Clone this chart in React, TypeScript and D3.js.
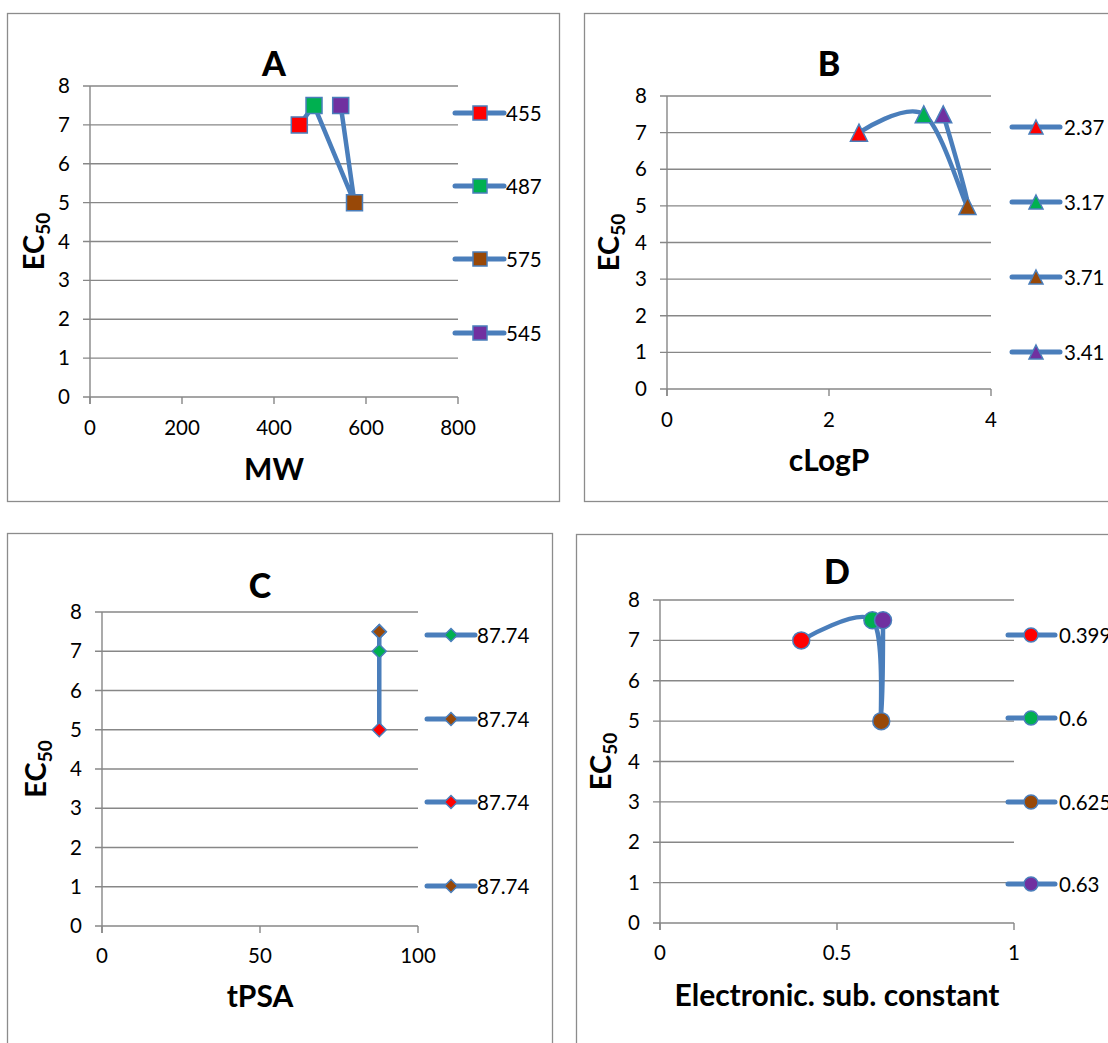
import React from 'react';
import * as d3 from 'd3';

const FONT = "Lato, 'Open Sans', sans-serif";
const BLUE = '#4A7EBB';
const GRID = '#878787';
const RED = '#FF0000';
const GREEN = '#00B050';
const BROWN = '#984807';
const PURPLE = '#7030A0';

// ---- data ----
const yTicks = [0, 1, 2, 3, 4, 5, 6, 7, 8];

const mwValues = [455, 487, 575, 545];
const mwEC50 = [7, 7.5, 5, 7.5];
const mwColors = [RED, GREEN, BROWN, PURPLE];
const mwLabels = ['455', '487', '575', '545'];
const mwTicks = [0, 200, 400, 600, 800];

const clogpValues = [2.37, 3.17, 3.71, 3.41];
const clogpEC50 = [7, 7.5, 5, 7.5];
const clogpColors = [RED, GREEN, BROWN, PURPLE];
const clogpLabels = ['2.37', '3.17', '3.71', '3.41'];
const clogpTicks = [0, 2, 4];

const tpsaValues = [87.74, 87.74, 87.74, 87.74];
const tpsaEC50 = [7, 7.5, 5, 7.5];
const tpsaColors = [GREEN, BROWN, RED, BROWN];
const tpsaLabels = ['87.74', '87.74', '87.74', '87.74'];
const tpsaTicks = [0, 50, 100];

const escValues = [0.399, 0.6, 0.625, 0.63];
const escEC50 = [7, 7.5, 5, 7.5];
const escColors = [RED, GREEN, BROWN, PURPLE];
const escLabels = ['0.399', '0.6', '0.625', '0.63'];
const escTicks = [0, 0.5, 1];

// ---- marker shapes ----
function markerPath(shape: string, s: number): string {
  const h = s / 2;
  if (shape === 'square') return `M${-h},${-h}H${h}V${h}H${-h}Z`;
  if (shape === 'triangle') return `M0,${-h}L${h},${h}L${-h},${h}Z`;
  if (shape === 'diamond') return `M0,${-h}L${h},0L0,${h}L${-h},0Z`;
  return `M${h},0A${h},${h} 0 1,1 ${-h},0A${h},${h} 0 1,1 ${h},0Z`;
}

type Cfg = {
  title: string;
  xLabel: string;
  xs: number[];
  ys: number[];
  colors: string[];
  labels: string[];
  xTicks: number[];
  xDomain: [number, number];
  smooth: boolean;
  shape: string;
  msize: number;
  lsize: number;
  border: [number, number, number, number];
  px0: number; px1: number; pyT: number; pyB: number;
  titleY: number;
  xTickY: number;
  xLabelY: number;
  yLabelX: number;
  legLine: [number, number];
  legMarker: number;
  legText: number;
  legY: number[];
};

const panels: Cfg[] = [
  {
    title: 'A', xLabel: 'MW', xs: mwValues, ys: mwEC50, colors: mwColors, labels: mwLabels,
    xTicks: mwTicks, xDomain: [0, 800], smooth: false, shape: 'square', msize: 16, lsize: 14,
    border: [7, 13, 559, 501], px0: 90, px1: 458, pyT: 86, pyB: 397,
    titleY: 76, xTickY: 435, xLabelY: 480, yLabelX: 44,
    legLine: [455, 504], legMarker: 480, legText: 506, legY: [113, 186, 259, 333],
  },
  {
    title: 'B', xLabel: 'cLogP', xs: clogpValues, ys: clogpEC50, colors: clogpColors, labels: clogpLabels,
    xTicks: clogpTicks, xDomain: [0, 4], smooth: true, shape: 'triangle', msize: 17, lsize: 14,
    border: [584, 13, 1140, 501], px0: 667, px1: 991, pyT: 96, pyB: 389,
    titleY: 76, xTickY: 427, xLabelY: 471, yLabelX: 619,
    legLine: [1012, 1060], legMarker: 1036, legText: 1064, legY: [127, 202, 277, 352],
  },
  {
    title: 'C', xLabel: 'tPSA', xs: tpsaValues, ys: tpsaEC50, colors: tpsaColors, labels: tpsaLabels,
    xTicks: tpsaTicks, xDomain: [0, 100], smooth: false, shape: 'diamond', msize: 14, lsize: 13,
    border: [7, 533, 552, 1080], px0: 102, px1: 418, pyT: 612, pyB: 926,
    titleY: 598, xTickY: 963, xLabelY: 1007, yLabelX: 46,
    legLine: [427, 475], legMarker: 451, legText: 477, legY: [635, 719, 802, 886],
  },
  {
    title: 'D', xLabel: 'Electronic. sub. constant', xs: escValues, ys: escEC50, colors: escColors, labels: escLabels,
    xTicks: escTicks, xDomain: [0, 1], smooth: true, shape: 'circle', msize: 17, lsize: 14,
    border: [576, 534, 1140, 1080], px0: 660, px1: 1014, pyT: 600, pyB: 923,
    titleY: 584, xTickY: 960, xLabelY: 1006, yLabelX: 611,
    legLine: [1008, 1055], legMarker: 1031, legText: 1059, legY: [635, 718, 802, 884],
  },
];

function Panel({ c }: { c: Cfg }) {
  const x = d3.scaleLinear().domain(c.xDomain).range([c.px0, c.px1]);
  const y = d3.scaleLinear().domain([0, 8]).range([c.pyB, c.pyT]);
  const pts: [number, number][] = c.xs.map((v, i) => [x(v), y(c.ys[i])]);
  const line = d3.line().curve(c.smooth ? d3.curveCardinal.tension(0) : d3.curveLinear);
  const [bx0, by0, bx1, by1] = c.border;
  const cx = (c.px0 + c.px1) / 2;
  const cy = (c.pyT + c.pyB) / 2;
  return (
    <g>
      <rect x={bx0 + 0.5} y={by0 + 0.5} width={bx1 - bx0} height={by1 - by0} fill="#fff" stroke="#8c8c8c" strokeWidth={1.3} />
      {yTicks.map((t) => (
        <line key={'g' + t} x1={c.px0 - 7} x2={c.px1} y1={y(t)} y2={y(t)} stroke={GRID} strokeWidth={1.4} />
      ))}
      <line x1={c.px0} x2={c.px0} y1={c.pyT} y2={c.pyB + 7} stroke={GRID} strokeWidth={1.4} />
      {c.xTicks.map((t) => (
        <line key={'xt' + t} x1={x(t)} x2={x(t)} y1={c.pyB} y2={c.pyB + 7} stroke={GRID} strokeWidth={1.4} />
      ))}
      {yTicks.map((t) => (
        <text key={'yl' + t} x={c.px0 - 20} y={y(t) + 7} textAnchor="end" fontSize={20.5} fontFamily={FONT} fill="#000">{t}</text>
      ))}
      {c.xTicks.map((t) => (
        <text key={'xl' + t} x={x(t)} y={c.xTickY} textAnchor="middle" fontSize={20.5} fontFamily={FONT} fill="#000">{t}</text>
      ))}
      <text x={cx} y={c.titleY} textAnchor="middle" fontSize={34} fontWeight="900" fontFamily={FONT}>{c.title}</text>
      <text x={cx} y={c.xLabelY} textAnchor="middle" fontSize={30} fontWeight="bold" fontFamily={FONT}>{c.xLabel}</text>
      <text transform={`translate(${c.yLabelX},${cy}) rotate(-90)`} textAnchor="middle" fontSize={29} fontWeight="bold" fontFamily={FONT}>
        EC<tspan fontSize={19} dy={6}>50</tspan>
      </text>
      <path d={line(pts) || ''} fill="none" stroke={BLUE} strokeWidth={4.5} strokeLinejoin="round" strokeLinecap="round" />
      {pts.map((p, i) => (
        <path key={'m' + i} d={markerPath(c.shape, c.msize)} transform={`translate(${p[0]},${p[1]})`} fill={c.colors[i]} stroke={BLUE} strokeWidth={1.5} />
      ))}
      {c.legY.map((ly, i) => (
        <g key={'lg' + i}>
          <line x1={c.legLine[0]} x2={c.legLine[1]} y1={ly} y2={ly} stroke={BLUE} strokeWidth={5} strokeLinecap="round" />
          <path d={markerPath(c.shape, c.lsize)} transform={`translate(${c.legMarker},${ly})`} fill={c.colors[i]} stroke={BLUE} strokeWidth={1.5} />
          <text x={c.legText} y={ly + 7.5} fontSize={20.5} fontFamily={FONT} fill="#000">{c.labels[i]}</text>
        </g>
      ))}
    </g>
  );
}

export default function App() {
  return (
    <svg width={1108} height={1043} style={{ position: 'absolute', left: 0, top: 0, overflow: 'hidden', background: '#fff' }}>
      <rect x={0} y={0} width={1108} height={1043} fill="#fff" />
      {panels.map((p) => (
        <Panel key={p.title} c={p} />
      ))}
    </svg>
  );
}
